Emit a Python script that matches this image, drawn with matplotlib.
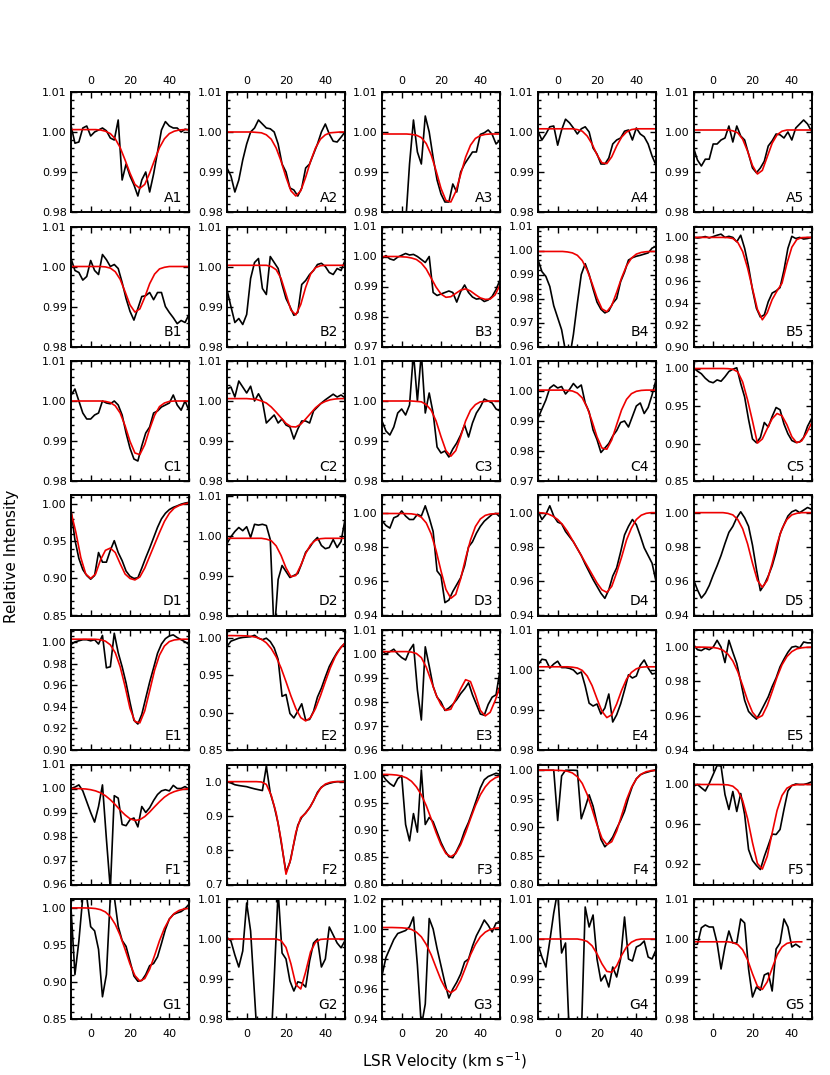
import numpy as np
import matplotlib
matplotlib.use("Agg")
import matplotlib.pyplot as plt
from matplotlib.ticker import MultipleLocator, AutoMinorLocator, FormatStrFormatter

nan = np.nan
v_obs = np.arange(-10, 51, 2)
v_fit = np.arange(-10, 50.1, 2.5)

# row A
obs_A1 = [1.0016, 0.9972, 0.9975, 1.001, 1.0015, 0.999, 1.000, 1.0005, 1.001, 1.0003, 0.9985, 0.998, 1.003, 0.988, 0.992, 0.989, 0.9868, 0.984, 0.988, 0.990, 0.985, 0.9895, 0.995, 1.0005, 1.0026, 1.0015, 1.001, 1.001, 1.000, 1.0007, 1.0005]
fit_A1 = [1.0006, 1.0006, 1.0006, 1.0006, 1.0006, 1.0006, 1.0005, 1.0002, 0.9996, 0.9983, 0.9961, 0.9930, 0.9897, 0.9869, 0.9859, 0.9869, 0.9897, 0.9930, 0.9961, 0.9983, 0.9996, 1.0002, 1.0005, 1.0006, 1.0006]
obs_A2 = [0.991, 0.989, 0.985, 0.988, 0.993, 0.997, 1.000, 1.001, 1.003, 1.002, 1.001, 1.0008, 1.000, 0.997, 0.992, 0.990, 0.986, 0.9855, 0.984, 0.986, 0.991, 0.992, 0.9945, 0.997, 1.000, 1.002, 0.9995, 0.9977, 0.9975, 0.9987, 1.000]
fit_A2 = [1.0, 1.0, 1.0, 1.0, 1.0, 1.0, 0.9999, 0.9998, 0.9993, 0.9982, 0.9960, 0.9927, 0.9887, 0.9853, 0.9840, 0.9853, 0.9887, 0.9927, 0.9960, 0.9982, 0.9993, 0.9998, 0.9999, 1.0, 1.0]
obs_A3 = [0.97, 0.97, 0.97, 0.97, 0.97, 0.97, 0.977, 0.992, 1.003, 0.995, 0.992, 1.004, 1.0, 0.9936, 0.988, 0.9845, 0.9825, 0.9825, 0.987, 0.985, 0.990, 0.992, 0.9935, 0.995, 0.995, 0.9994, 0.9998, 1.0005, 0.9994, 0.997, 0.998]
fit_A3 = [0.9995, 0.9995, 0.9995, 0.9995, 0.9995, 0.9995, 0.9994, 0.9992, 0.9986, 0.9971, 0.9943, 0.9903, 0.9859, 0.9829, 0.9825, 0.9851, 0.9894, 0.9937, 0.9967, 0.9984, 0.9991, 0.9994, 0.9995, 0.9995, 0.9995]
obs_A4 = [1.0002, 0.998, 0.9995, 1.0013, 1.0015, 0.9967, 1.0005, 1.0032, 1.0023, 1.001, 0.9995, 1.0008, 1.0013, 1.0, 0.996, 0.9945, 0.992, 0.992, 0.9935, 0.997, 0.998, 0.9985, 1.0002, 1.0005, 0.998, 1.001, 0.9995, 0.9988, 0.997, 0.994, 0.9917]
fit_A4 = [1.0008, 1.0008, 1.0008, 1.0008, 1.0008, 1.0008, 1.0008, 1.0008, 1.0006, 1.0002, 0.9990, 0.9970, 0.9943, 0.9923, 0.9921, 0.9938, 0.9965, 0.9987, 1.0000, 1.0006, 1.0008, 1.0008, 1.0008, 1.0008, 1.0008]
obs_A5 = [0.9961, 0.993, 0.9915, 0.9932, 0.9932, 0.997, 0.997, 0.998, 0.9985, 1.0015, 0.9975, 1.0015, 0.999, 0.998, 0.9945, 0.991, 0.9898, 0.991, 0.9927, 0.9965, 0.9978, 0.9995, 0.9993, 0.9985, 1.0, 0.998, 1.001, 1.002, 1.003, 1.002, 1.0002]
fit_A5 = [1.0005, 1.0005, 1.0005, 1.0005, 1.0005, 1.0005, 1.0005, 1.0005, 1.0003, 0.9998, 0.9982, 0.9952, 0.9916, 0.9895, 0.9904, 0.9938, 0.9972, 0.9993, 1.0002, 1.0005, 1.0005, 1.0005, 1.0005, 1.0005, 1.0005]

# row B
obs_B1 = [1.002, 0.999, 0.9985, 0.9966, 0.9975, 1.0015, 0.999, 0.998, 1.003, 1.0017, 1.000, 1.0005, 0.9995, 0.996, 0.992, 0.9888, 0.9866, 0.9895, 0.9925, 0.9927, 0.9935, 0.9917, 0.9935, 0.9935, 0.990, 0.9885, 0.9872, 0.9857, 0.9865, 0.986, 0.988]
fit_B1 = [1.0, 1.0, 1.0, 1.0, 1.0, 1.0, 1.0, 0.9999, 0.9996, 0.9987, 0.9968, 0.9937, 0.9904, 0.9886, 0.9894, 0.9923, 0.9957, 0.9981, 0.9994, 0.9998, 1.0, 1.0, 1.0, 1.0, 1.0]
obs_B2 = [0.9942, 0.990, 0.986, 0.987, 0.9855, 0.988, 0.997, 1.001, 1.002, 0.9945, 0.993, 1.0025, 1.001, 0.9995, 0.9955, 0.992, 0.990, 0.9878, 0.9885, 0.9955, 0.9965, 0.998, 0.999, 1.0005, 1.0008, 1.0, 0.9985, 0.998, 0.9995, 0.999, 1.0015]
fit_B2 = [1.0003, 1.0003, 1.0003, 1.0003, 1.0003, 1.0003, 1.0003, 1.0003, 1.0003, 1.0000, 0.9992, 0.9970, 0.9931, 0.9891, 0.9879, 0.9905, 0.9948, 0.9981, 0.9997, 1.0002, 1.0003, 1.0003, 1.0003, 1.0003, 1.0003]
obs_B3 = [0.9994, 1.0003, 0.9992, 0.9988, 0.9998, 1.0004, 1.001, 1.0005, 1.0007, 1.0, 0.999, 0.998, 1.0, 0.988, 0.987, 0.9875, 0.988, 0.9885, 0.988, 0.9848, 0.9883, 0.9905, 0.988, 0.9865, 0.9858, 0.986, 0.985, 0.9855, 0.9867, 0.989, 0.9922]
fit_B3 = [1.0, 1.0, 1.0, 1.0, 0.9999, 0.9998, 0.9995, 0.999, 0.9978, 0.9958, 0.9928, 0.9898, 0.9875, 0.9864, 0.9866, 0.9877, 0.9888, 0.9892, 0.9885, 0.9873, 0.9862, 0.9857, 0.9858, 0.9872, 0.9905]
obs_B4 = [0.9962, 0.9912, 0.9892, 0.985, 0.977, 0.972, 0.967, 0.958, 0.955, 0.965, 0.978, 0.990, 0.9945, 0.990, 0.984, 0.9785, 0.9755, 0.974, 0.9748, 0.978, 0.980, 0.987, 0.991, 0.996, 0.997, 0.9976, 0.998, 0.9985, 0.999, 1.001, 1.0017]
fit_B4 = [0.9996, 0.9996, 0.9996, 0.9996, 0.9996, 0.9996, 0.9994, 0.9990, 0.9980, 0.9958, 0.9918, 0.9863, 0.9803, 0.9757, 0.9745, 0.9771, 0.9826, 0.9886, 0.9936, 0.9968, 0.9985, 0.9992, 0.9995, 0.9996, 0.9996]
obs_B5 = [1.0, 0.9995, 1.0, 1.0008, 0.9995, 1.0008, 1.002, 1.003, 1.0, 1.001, 1.0, 0.996, 1.002, 0.99, 0.973, 0.952, 0.935, 0.927, 0.929, 0.941, 0.949, 0.951, 0.954, 0.970, 0.990, 1.001, 0.999, 1.0, 0.9985, 0.999, 1.0]
fit_B5 = [1.0, 1.0, 1.0, 1.0, 1.0, 1.0, 1.0, 0.9998, 0.999, 0.9955, 0.987, 0.972, 0.953, 0.934, 0.9245, 0.931, 0.943, 0.951, 0.958, 0.976, 0.991, 0.998, 0.9998, 1.0, 1.0]

# row C
obs_C1 = [1.0014, 1.003, 1.0, 0.997, 0.9955, 0.9955, 0.9965, 0.997, 1.0, 0.9995, 0.9993, 1.0, 0.999, 0.9965, 0.992, 0.9882, 0.9855, 0.985, 0.9888, 0.992, 0.9935, 0.997, 0.9975, 0.9985, 0.999, 0.9995, 1.0015, 0.999, 0.9977, 1.0, 0.9976]
fit_C1 = [1.0, 1.0, 1.0, 1.0, 1.0, 1.0, 1.0, 0.9999, 0.9996, 0.9988, 0.9970, 0.9938, 0.9899, 0.9870, 0.9866, 0.9891, 0.9930, 0.9964, 0.9986, 0.9995, 0.9999, 1.0, 1.0, 1.0, 1.0]
obs_C2 = [1.003, 1.0035, 1.001, 1.005, 1.0035, 1.002, 1.0037, 1.0, 1.0018, 1.0, 0.9945, 0.9955, 0.9965, 0.9945, 0.9955, 0.994, 0.9935, 0.9905, 0.993, 0.995, 0.995, 0.9945, 0.9975, 0.9985, 0.9995, 1.0003, 1.001, 1.0017, 1.001, 1.0015, 1.0008]
fit_C2 = [1.0006, 1.0006, 1.0006, 1.0006, 1.0006, 1.0005, 1.0004, 1.0000, 0.9995, 0.9985, 0.9972, 0.9958, 0.9944, 0.9936, 0.9935, 0.9942, 0.9955, 0.9969, 0.9983, 0.9993, 0.9999, 1.0003, 1.0005, 1.0006, 1.0006]
obs_C3 = [0.995, 0.9925, 0.9915, 0.9935, 0.997, 0.998, 0.9965, 0.999, 1.012, 1.0, 1.012, 0.997, 1.002, 0.997, 0.9885, 0.987, 0.9875, 0.986, 0.988, 0.9895, 0.9915, 0.994, 0.991, 0.9945, 0.997, 0.9985, 1.0005, 1.0, 0.9995, 0.998, 0.9975]
fit_C3 = [1.0, 1.0, 1.0, 1.0, 1.0, 1.0, 1.0, 0.9999, 0.9998, 0.9991, 0.9977, 0.9950, 0.9911, 0.9876, 0.9862, 0.9876, 0.9911, 0.9950, 0.9977, 0.9991, 0.9998, 0.9999, 1.0, 1.0, 1.0]
obs_C4 = [0.9909, 0.994, 0.997, 1.001, 1.002, 1.001, 1.0015, 0.999, 1.0005, 1.0025, 1.001, 1.002, 0.996, 0.993, 0.987, 0.9838, 0.9795, 0.981, 0.9825, 0.985, 0.9868, 0.9895, 0.990, 0.988, 0.9915, 0.995, 0.996, 0.9925, 0.9945, 0.9987, 1.0037]
fit_C4 = [1.0003, 1.0003, 1.0003, 1.0003, 1.0003, 1.0003, 1.0002, 1.0000, 0.9993, 0.9977, 0.9945, 0.9899, 0.9847, 0.9810, 0.9806, 0.9837, 0.9888, 0.9937, 0.9972, 0.9991, 0.9999, 1.0002, 1.0003, 1.0003, 1.0003]
obs_C5 = [1.0009, 0.9965, 0.993, 0.987, 0.9826, 0.981, 0.9848, 0.983, 0.989, 0.996, 0.999, 1.001, 0.980, 0.962, 0.932, 0.906, 0.901, 0.908, 0.928, 0.922, 0.936, 0.948, 0.945, 0.926, 0.913, 0.904, 0.9015, 0.902, 0.908, 0.923, 0.933]
fit_C5 = [1.0, 1.0, 1.0, 1.0, 1.0, 1.0, 1.0, 0.9998, 0.999, 0.9955, 0.982, 0.958, 0.930, 0.9005, 0.906, 0.920, 0.933, 0.940, 0.937, 0.925, 0.909, 0.901, 0.9035, 0.914, 0.927]

# row D
obs_D1 = [0.9925, 0.952, 0.927, 0.912, 0.904, 0.899, 0.904, 0.935, 0.922, 0.922, 0.938, 0.951, 0.935, 0.924, 0.910, 0.903, 0.900, 0.901, 0.914, 0.928, 0.941, 0.955, 0.969, 0.9805, 0.988, 0.993, 0.996, 0.998, 1.0003, 1.0018, 1.0028]
fit_D1 = [0.990, 0.962, 0.928, 0.906, 0.900, 0.906, 0.925, 0.938, 0.941, 0.935, 0.920, 0.906, 0.900, 0.898, 0.902, 0.914, 0.930, 0.946, 0.962, 0.977, 0.988, 0.995, 0.9985, 1.0005, 1.002]
obs_D2 = [0.998, 0.9997, 1.001, 1.002, 1.0012, 1.0022, 0.9995, 1.0028, 1.0026, 1.0028, 1.0025, 0.999, 0.975, 0.989, 0.9925, 0.991, 0.9895, 0.990, 0.9905, 0.993, 0.9958, 0.997, 0.9985, 0.9995, 0.9975, 0.9967, 0.997, 0.999, 0.997, 0.9985, 1.004]
fit_D2 = [0.9993, 0.9993, 0.9993, 0.9993, 0.9993, 0.9993, 0.9993, 0.9993, 0.9991, 0.9987, 0.9974, 0.9950, 0.9919, 0.9897, 0.9900, 0.9925, 0.9955, 0.9977, 0.9988, 0.9992, 0.9993, 0.9993, 0.9993, 0.9993, 0.9993]
obs_D3 = [0.9953, 0.9925, 0.991, 0.997, 0.998, 1.001, 0.998, 0.996, 0.996, 0.999, 0.998, 1.004, 0.997, 0.989, 0.966, 0.963, 0.9475, 0.949, 0.954, 0.958, 0.962, 0.969, 0.980, 0.983, 0.988, 0.992, 0.995, 0.997, 0.999, 0.9995, 0.9975]
fit_D3 = [0.9995, 0.9995, 0.9995, 0.9995, 0.9995, 0.9994, 0.9993, 0.9988, 0.9973, 0.9940, 0.9876, 0.9779, 0.9660, 0.9552, 0.9500, 0.9523, 0.9614, 0.9733, 0.9840, 0.9919, 0.9963, 0.9984, 0.9992, 0.9994, 0.9995]
obs_D4 = [1.001, 0.996, 0.999, 1.004, 0.998, 0.9945, 0.9935, 0.989, 0.986, 0.983, 0.979, 0.975, 0.970, 0.9655, 0.961, 0.957, 0.953, 0.950, 0.955, 0.963, 0.9678, 0.977, 0.987, 0.992, 0.996, 0.993, 0.9865, 0.9795, 0.975, 0.9705, 0.960]
fit_D4 = [1.0, 0.9998, 0.9993, 0.998, 0.996, 0.993, 0.989, 0.984, 0.979, 0.974, 0.969, 0.964, 0.959, 0.955, 0.9535, 0.957, 0.965, 0.974, 0.984, 0.991, 0.996, 0.9985, 0.9996, 1.0, 1.0]
obs_D5 = [0.961, 0.955, 0.9502, 0.953, 0.9575, 0.9635, 0.969, 0.975, 0.982, 0.9885, 0.992, 0.997, 1.0005, 0.997, 0.992, 0.981, 0.967, 0.9545, 0.958, 0.963, 0.969, 0.977, 0.9875, 0.993, 0.998, 1.0005, 1.0015, 1.0, 1.0015, 1.003, 1.002]
fit_D5 = [1.0, 1.0, 1.0, 1.0, 1.0, 1.0, 1.0, 0.9996, 0.9987, 0.9960, 0.9906, 0.9818, 0.9705, 0.9605, 0.9565, 0.9605, 0.9705, 0.9818, 0.9906, 0.9960, 0.9987, 0.9996, 1.0, 1.0, 1.0]

# row E
obs_E1 = [0.9975, 1.0, 1.001, 1.002, 1.002, 1.001, 1.002, 0.998, 1.006, 0.976, 0.977, 1.008, 0.990, 0.977, 0.962, 0.944, 0.9275, 0.924, 0.933, 0.948, 0.9628, 0.976, 0.9895, 0.998, 1.003, 1.0055, 1.0065, 1.004, 1.002, 1.0, 0.9975]
fit_E1 = [1.0025, 1.0025, 1.0025, 1.0025, 1.0025, 1.0024, 1.0020, 1.0007, 0.9973, 0.9900, 0.9770, 0.9588, 0.9385, 0.9264, 0.9251, 0.9362, 0.9548, 0.9738, 0.9878, 0.9962, 1.0003, 1.0018, 1.0023, 1.0025, 1.0025]
obs_E2 = [0.989, 0.996, 0.998, 1.0, 1.001, 1.0015, 1.002, 1.004, 1.0, 0.998, 1.0, 0.9955, 0.987, 0.9715, 0.922, 0.9245, 0.899, 0.893, 0.902, 0.912, 0.890, 0.891, 0.902, 0.921, 0.933, 0.948, 0.962, 0.972, 0.981, 0.988, 0.9934]
fit_E2 = [1.0035, 1.0035, 1.0034, 1.0033, 1.0031, 1.0024, 1.0011, 0.9985, 0.9938, 0.9861, 0.9750, 0.9600, 0.9417, 0.9226, 0.9056, 0.8934, 0.8890, 0.8934, 0.9056, 0.9226, 0.9417, 0.9600, 0.9750, 0.9861, 0.9938]
obs_E3 = [1.0014, 1.0, 1.001, 1.002, 1.0, 0.9985, 0.9975, 1.0015, 1.004, 0.985, 0.9725, 1.003, 0.995, 0.9865, 0.982, 0.980, 0.9765, 0.9775, 0.979, 0.981, 0.9835, 0.9855, 0.988, 0.983, 0.979, 0.975, 0.9745, 0.979, 0.982, 0.983, 0.9932]
fit_E3 = [1.001, 1.001, 1.001, 1.001, 1.001, 1.001, 1.0008, 1.0002, 0.9985, 0.9945, 0.9888, 0.983, 0.9788, 0.9765, 0.977, 0.9812, 0.9855, 0.9893, 0.9885, 0.983, 0.9765, 0.9742, 0.9757, 0.9805, 0.9865]
obs_E4 = [1.0013, 1.0027, 1.0025, 1.0005, 1.0015, 1.0022, 1.0006, 1.0006, 1.0004, 1.0, 0.999, 0.9995, 0.996, 0.9917, 0.991, 0.9915, 0.989, 0.9905, 0.994, 0.987, 0.9888, 0.9915, 0.995, 0.9988, 0.998, 0.9985, 1.0012, 1.0025, 1.0005, 0.999, 0.9992]
fit_E4 = [1.0008, 1.0008, 1.0008, 1.0008, 1.0008, 1.0008, 1.0008, 1.0007, 1.0005, 0.9999, 0.9985, 0.9961, 0.9928, 0.9897, 0.9881, 0.9888, 0.9915, 0.9949, 0.9977, 0.9994, 1.0003, 1.0007, 1.0008, 1.0008, 1.0008]
obs_E5 = [1.0015, 0.9985, 0.998, 0.9994, 0.9985, 1.0, 1.004, 1.0, 0.991, 1.004, 0.997, 0.9905, 0.98, 0.969, 0.9625, 0.960, 0.958, 0.962, 0.9665, 0.971, 0.977, 0.982, 0.9885, 0.993, 0.997, 1.0, 1.0005, 0.9996, 1.003, 1.0025, 1.0025]
fit_E5 = [1.0, 1.0, 1.0, 0.9999, 0.9998, 0.9993, 0.9982, 0.9959, 0.9919, 0.9857, 0.9776, 0.9689, 0.9620, 0.9586, 0.9601, 0.9660, 0.9741, 0.9826, 0.9897, 0.9945, 0.9974, 0.9990, 0.9996, 0.9999, 1.0]

# row F
obs_F1 = [1.0, 1.0006, 1.0015, 0.999, 0.9945, 0.990, 0.986, 0.9925, 1.0015, 0.979, 0.958, 0.997, 0.996, 0.985, 0.9845, 0.987, 0.9877, 0.984, 0.9925, 0.990, 0.992, 0.995, 0.9975, 0.999, 0.9995, 0.999, 1.0013, 1.0, 1.0, 1.0008, 0.9997]
fit_F1 = [1.0, 1.0, 0.9999, 0.9998, 0.9995, 0.9990, 0.9982, 0.9970, 0.9953, 0.9933, 0.9910, 0.9890, 0.9874, 0.9867, 0.9870, 0.9883, 0.9902, 0.9924, 0.9945, 0.9964, 0.9978, 0.9987, 0.9993, 0.9997, 0.9999]
obs_F2 = [1.0, 0.996, 0.991, 0.9887, 0.987, 0.9853, 0.982, 0.979, 0.9765, 0.974, 1.045, 0.967, 0.928, 0.878, 0.807, 0.736, 0.765, 0.820, 0.873, 0.896, 0.909, 0.924, 0.944, 0.969, 0.984, 0.991, 0.995, 0.998, 1.0, 1.0, 1.002]
fit_F2 = [1.0, 1.0, 1.0, 1.0, 1.0, 1.0, 1.0, 0.999, 0.992, 0.960, 0.908, 0.830, 0.730, 0.775, 0.852, 0.895, 0.908, 0.928, 0.956, 0.980, 0.993, 0.998, 1.0, 1.0, 1.0]
obs_F3 = [1.002, 0.992, 0.985, 0.980, 0.994, 0.9995, 0.91, 0.88, 0.93, 0.896, 1.01, 0.91, 0.923, 0.915, 0.896, 0.877, 0.862, 0.851, 0.849, 0.862, 0.877, 0.898, 0.914, 0.934, 0.955, 0.977, 0.992, 0.998, 1.001, 1.004, 1.002]
fit_F3 = [1.0019, 1.0018, 1.0014, 1.0006, 0.9988, 0.9954, 0.9892, 0.9790, 0.9644, 0.9446, 0.9205, 0.8952, 0.8729, 0.8567, 0.851, 0.8567, 0.8729, 0.8952, 0.9205, 0.9446, 0.9644, 0.9790, 0.9892, 0.9954, 0.9988]
obs_F4 = [1.0, 1.0, 1.0, 1.0, 1.0, 0.912, 0.99, 1.0, 1.0, 1.0, 0.9995, 0.915, 0.935, 0.957, 0.937, 0.907, 0.879, 0.866, 0.873, 0.883, 0.898, 0.912, 0.928, 0.952, 0.972, 0.985, 0.992, 0.995, 0.997, 0.999, 1.001]
fit_F4 = [1.0, 1.0, 1.0, 1.0, 0.9998, 0.9994, 0.9982, 0.9952, 0.9886, 0.9769, 0.9576, 0.9319, 0.9045, 0.8810, 0.8698, 0.8749, 0.8936, 0.9208, 0.9482, 0.9697, 0.9847, 0.9932, 0.9974, 0.9991, 0.9997]
obs_F5 = [0.9983, 1.0, 0.9967, 0.9935, 1.001, 1.01, 1.019, 1.0185, 0.99, 0.975, 0.993, 0.973, 0.991, 0.97, 0.935, 0.924, 0.919, 0.915, 0.928, 0.939, 0.9504, 0.950, 0.955, 0.975, 0.9935, 0.999, 1.0005, 1.0, 1.0, 1.001, 1.0026]
fit_F5 = [1.0, 1.0, 1.0, 1.0, 1.0, 1.0, 0.9999, 0.9996, 0.9983, 0.9941, 0.9840, 0.9658, 0.9418, 0.9210, 0.9154, 0.9282, 0.9516, 0.9741, 0.9890, 0.9963, 0.9990, 0.9998, 1.0, 1.0, 1.0]

# row G
obs_G1 = [1.0, 0.91, 0.955, 1.015, 1.015, 0.9746, 0.969, 0.944, 0.88, 0.91, 1.015, 1.015, 0.975, 0.956, 0.948, 0.928, 0.908, 0.901, 0.902, 0.910, 0.922, 0.925, 0.934, 0.952, 0.971, 0.985, 0.991, 0.9933, 0.995, 0.999, 1.005]
fit_G1 = [1.0, 1.0, 1.0, 0.9999, 0.9997, 0.9991, 0.9976, 0.9945, 0.9883, 0.9778, 0.9629, 0.9441, 0.9242, 0.9086, 0.9012, 0.9046, 0.9173, 0.9357, 0.9557, 0.9725, 0.9847, 0.9925, 0.9966, 0.9986, 0.9995]
obs_G2 = [1.0004, 0.9995, 0.996, 0.993, 0.997, 1.009, 1.002, 0.986, 0.97, 0.97, 0.97, 0.97, 0.990, 1.012, 0.9965, 0.995, 0.9895, 0.987, 0.9893, 0.989, 0.988, 0.9945, 0.999, 1.0, 0.993, 0.995, 1.003, 1.001, 0.999, 0.9978, 0.9996]
fit_G2 = [1.0, 1.0, 1.0, 1.0, 1.0, 1.0, 1.0, 1.0, 1.0, 1.0, 1.0, 0.9996, 0.9979, 0.9938, 0.9886, 0.9875, 0.9918, 0.9968, 0.9992, 0.9999, 1.0, 1.0, 1.0, 1.0, 1.0]
obs_G3 = [0.969, 0.981, 0.987, 0.993, 0.997, 0.998, 0.999, 1.0015, 1.008, 0.976, 0.935, 0.95, 1.007, 1.0, 0.987, 0.9755, 0.964, 0.954, 0.960, 0.9645, 0.970, 0.978, 0.980, 0.9885, 0.9955, 1.0005, 1.006, 1.0025, 0.998, 1.004, 1.004]
fit_G3 = [1.001, 1.001, 1.001, 1.0009, 1.0008, 1.0005, 0.9997, 0.9979, 0.9948, 0.9897, 0.9828, 0.9743, 0.9660, 0.9598, 0.9575, 0.9598, 0.9660, 0.9743, 0.9828, 0.9897, 0.9948, 0.9979, 0.9997, 1.0005, 1.0008]
obs_G4 = [0.9986, 0.9955, 0.993, 0.9995, 1.0065, 1.012, 0.9965, 0.999, 0.975, 0.975, 0.975, 0.975, 1.008, 1.003, 1.006, 0.995, 0.9895, 0.991, 0.988, 0.993, 0.9905, 0.995, 1.0055, 0.995, 0.9945, 0.998, 0.9985, 0.9995, 0.9955, 0.995, 0.9973]
fit_G4 = [1.0, 1.0, 1.0, 1.0, 1.0, 1.0, 1.0, 1.0, 1.0, 0.9998, 0.9994, 0.9983, 0.9963, 0.9938, 0.9919, 0.9917, 0.9933, 0.9959, 0.9980, 0.9992, 0.9998, 1.0, 1.0, 1.0, 1.0]
obs_G5 = [0.9987, 0.9987, 1.0028, 1.0035, 1.003, 1.003, 0.999, 0.9925, 0.998, 1.002, 0.999, 0.999, 1.005, 1.004, 0.9925, 0.9855, 0.988, 0.9872, 0.991, 0.9915, 0.987, 0.9975, 0.999, 1.005, 1.003, 0.998, 0.9987, 0.998, nan, nan, nan]
fit_G5 = [0.9993, 0.9993, 0.9993, 0.9993, 0.9993, 0.9993, 0.9993, 0.9993, 0.9991, 0.9986, 0.9973, 0.9948, 0.9913, 0.9882, 0.9874, 0.9893, 0.9927, 0.9960, 0.9980, 0.9989, 0.9992, 0.9993, 0.9993, nan, nan]

obs = {
    "A1": obs_A1, "A2": obs_A2, "A3": obs_A3, "A4": obs_A4, "A5": obs_A5,
    "B1": obs_B1, "B2": obs_B2, "B3": obs_B3, "B4": obs_B4, "B5": obs_B5,
    "C1": obs_C1, "C2": obs_C2, "C3": obs_C3, "C4": obs_C4, "C5": obs_C5,
    "D1": obs_D1, "D2": obs_D2, "D3": obs_D3, "D4": obs_D4, "D5": obs_D5,
    "E1": obs_E1, "E2": obs_E2, "E3": obs_E3, "E4": obs_E4, "E5": obs_E5,
    "F1": obs_F1, "F2": obs_F2, "F3": obs_F3, "F4": obs_F4, "F5": obs_F5,
    "G1": obs_G1, "G2": obs_G2, "G3": obs_G3, "G4": obs_G4, "G5": obs_G5,
}
fit = {
    "A1": fit_A1, "A2": fit_A2, "A3": fit_A3, "A4": fit_A4, "A5": fit_A5,
    "B1": fit_B1, "B2": fit_B2, "B3": fit_B3, "B4": fit_B4, "B5": fit_B5,
    "C1": fit_C1, "C2": fit_C2, "C3": fit_C3, "C4": fit_C4, "C5": fit_C5,
    "D1": fit_D1, "D2": fit_D2, "D3": fit_D3, "D4": fit_D4, "D5": fit_D5,
    "E1": fit_E1, "E2": fit_E2, "E3": fit_E3, "E4": fit_E4, "E5": fit_E5,
    "F1": fit_F1, "F2": fit_F2, "F3": fit_F3, "F4": fit_F4, "F5": fit_F5,
    "G1": fit_G1, "G2": fit_G2, "G3": fit_G3, "G4": fit_G4, "G5": fit_G5,
}

# y range, major step, minor subdivisions
yaxis = {
    "A1": (0.98, 1.01, 0.01, 5), "A2": (0.98, 1.01, 0.01, 5), "A3": (0.98, 1.01, 0.01, 5),
    "A4": (0.98, 1.01, 0.01, 5), "A5": (0.98, 1.01, 0.01, 5),
    "B1": (0.98, 1.01, 0.01, 5), "B2": (0.98, 1.01, 0.01, 5), "B3": (0.97, 1.01, 0.01, 5),
    "B4": (0.96, 1.01, 0.01, 5), "B5": (0.90, 1.01, 0.02, 4),
    "C1": (0.98, 1.01, 0.01, 5), "C2": (0.98, 1.01, 0.01, 5), "C3": (0.98, 1.01, 0.01, 5),
    "C4": (0.97, 1.01, 0.01, 5), "C5": (0.85, 1.01, 0.05, 5),
    "D1": (0.85, 1.012, 0.05, 5), "D2": (0.98, 1.01, 0.01, 5), "D3": (0.94, 1.01, 0.02, 4),
    "D4": (0.94, 1.01, 0.02, 4), "D5": (0.94, 1.01, 0.02, 4),
    "E1": (0.90, 1.011, 0.02, 4), "E2": (0.85, 1.011, 0.05, 5), "E3": (0.96, 1.01, 0.01, 5),
    "E4": (0.98, 1.01, 0.01, 5), "E5": (0.94, 1.01, 0.02, 4),
    "F1": (0.96, 1.01, 0.01, 5), "F2": (0.70, 1.05, 0.1, 5), "F3": (0.80, 1.02, 0.05, 5),
    "F4": (0.80, 1.01, 0.05, 5), "F5": (0.90, 1.02, 0.04, 4),
    "G1": (0.85, 1.012, 0.05, 5), "G2": (0.98, 1.01, 0.01, 5), "G3": (0.94, 1.02, 0.02, 4),
    "G4": (0.98, 1.01, 0.01, 5), "G5": (0.98, 1.01, 0.01, 5),
}

W, H = 830, 1075
fig = plt.figure(figsize=(W / 100, H / 100), dpi=100)
lefts = [71, 227, 382, 538, 693.5]
rows = "ABCDEFG"

for i, r in enumerate(rows):
    top = 92 + 134.5 * i
    for j in range(5):
        name = r + str(j + 1)
        ax = fig.add_axes([lefts[j] / W, 1 - (top + 120) / H, 118 / W, 120 / H])
        ax.plot(v_obs, obs[name], color="black", lw=1.2)
        ax.plot(v_fit, fit[name], color="#ee0000", lw=1.2)
        lo, hi, step, nminor = yaxis[name]
        ax.set_xlim(-10, 50)
        ax.set_ylim(lo, hi)
        ax.xaxis.set_major_locator(MultipleLocator(20))
        ax.xaxis.set_minor_locator(MultipleLocator(5))
        ax.yaxis.set_major_locator(MultipleLocator(step))
        ax.yaxis.set_minor_locator(AutoMinorLocator(nminor))
        ax.yaxis.set_major_formatter(FormatStrFormatter("%.1f" if step >= 0.1 else "%.2f"))
        ax.tick_params(which="both", direction="in", top=True, right=True, width=1.0,
                       labelsize=8, labelbottom=(r == "G"), labeltop=(r == "A"))
        ax.tick_params(which="major", length=4.5)
        ax.tick_params(which="minor", length=2.5)
        ax.tick_params(axis="y", pad=3)
        ax.tick_params(axis="x", pad=4 if r == "A" else 7)
        for s in ax.spines.values():
            s.set_linewidth(1.4)
        ax.text(0.94, 0.06, name, transform=ax.transAxes, ha="right", va="bottom", fontsize=10)

fig.text(12 / W, 1 - 556 / H, "Relative Intensity", rotation=90, ha="center", va="center", fontsize=11)
fig.text(444 / W, 1 - 1061 / H, "LSR Velocity (km s$^{-1}$)", ha="center", va="center", fontsize=11)

fig.savefig("out.png", dpi=100)
